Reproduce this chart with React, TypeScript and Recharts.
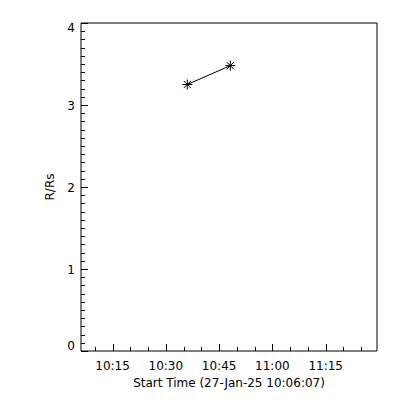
import React from "react";
import { LineChart, Line, XAxis, YAxis } from "recharts";

// times are read as clock times, the x scale is seconds after the start time
const startTime = "10:06:07";
const eventTimes = ["10:36:03", "10:48:09"];
const heights = [3.25, 3.48];
const timeLabels = ["10:15", "10:30", "10:45", "11:00", "11:15"];
const heightLabels = [0, 1, 2, 3, 4];

const toSec = (t: string) => {
  const [h, m, s = 0] = t.split(":").map(Number);
  return h * 3600 + m * 60 + s;
};
const t0 = toSec(startTime);
const X_MAX = 5000;
const Y_MAX = 4;

const data = eventTimes.map((t, i) => ({ t: toSec(t) - t0, r: heights[i] }));

const majorX = timeLabels.map((l) => toSec(l) - t0);
const xTicks: number[] = [];
for (let v = majorX[0] - 300; v < X_MAX; v += 300) if (v > 0) xTicks.push(v);
const yTicks: number[] = [];
for (let k = 0; k <= Y_MAX * 10; k++) yTicks.push(k / 10);

const font = { fontFamily: "DejaVu Sans", fontSize: 12, fill: "#000" };
const ink = { stroke: "#000", strokeWidth: 1, fill: "none" };
const px = (v: number) => Math.round(v) + 0.5;
const isMajorX = (v: number) => majorX.includes(v);
const isMajorY = (v: number) => Math.abs(v - Math.round(v)) < 1e-6;

const BottomTick = (props: any) => {
  const { x, y, payload } = props;
  const major = isMajorX(payload.value);
  const i = majorX.indexOf(payload.value);
  return (
    <g>
      <path d={`M${px(x)},${Math.round(y)}v${-(major ? 7 : 4)}`} {...ink} />
      {major && (
        <text x={x} y={y + 19} textAnchor="middle" {...font}>
          {timeLabels[i]}
        </text>
      )}
    </g>
  );
};

const TopTick = (props: any) => {
  const { x, y, payload } = props;
  const major = isMajorX(payload.value);
  return <path d={`M${px(x)},${Math.round(y)}v${major ? 7 : 4}`} {...ink} />;
};

const LeftTick = (props: any) => {
  const { x, y, payload } = props;
  const v = payload.value;
  const major = isMajorY(v);
  let dy = 4.5;
  if (v === Y_MAX) dy = 9;
  if (v === 0) dy = -1;
  return (
    <g>
      <path d={`M${Math.round(x)},${px(y)}h${major ? 7 : 4}`} {...ink} />
      {major && heightLabels.includes(Math.round(v)) && (
        <text x={x - 6} y={y + dy} textAnchor="end" {...font}>
          {Math.round(v)}
        </text>
      )}
    </g>
  );
};

const RightTick = (props: any) => {
  const { x, y, payload } = props;
  const major = isMajorY(payload.value);
  return <path d={`M${Math.round(x)},${px(y)}h${-(major ? 7 : 4)}`} {...ink} />;
};

const Asterisk = (props: any) => {
  const { cx, cy } = props;
  if (cx == null || cy == null) return null;
  const r = 5;
  const d = r * 0.72;
  return (
    <path
      d={`M${cx - r},${cy}h${2 * r}M${cx},${cy - r}v${2 * r}M${cx - d},${cy - d}l${2 * d},${2 * d}M${cx - d},${cy + d}l${2 * d},${-2 * d}`}
      {...ink}
    />
  );
};

export default function App() {
  return (
    <div style={{ position: "absolute", left: 0, top: 0, background: "#fff" }}>
      <LineChart
        width={400}
        height={400}
        data={data}
        margin={{ top: 18, right: 18, bottom: 19, left: 51 }}
      >
        <XAxis
          dataKey="t"
          type="number"
          domain={[0, X_MAX]}
          ticks={xTicks}
          interval={0}
          height={30}
          tickSize={0}
          tickMargin={0}
          tickLine={false}
          axisLine={ink}
          tick={<BottomTick />}
          label={({ viewBox }: any) => (
            <text
              x={viewBox.x + viewBox.width / 2}
              y={viewBox.y + 36}
              textAnchor="middle"
              {...font}
            >
              Start Time (27-Jan-25 10:06:07)
            </text>
          )}
        />
        <XAxis
          xAxisId="top"
          orientation="top"
          type="number"
          domain={[0, X_MAX]}
          ticks={xTicks}
          interval={0}
          height={5}
          tickSize={0}
          tickMargin={0}
          tickLine={false}
          axisLine={ink}
          tick={<TopTick />}
        />
        <YAxis
          type="number"
          domain={[0, Y_MAX]}
          ticks={yTicks}
          interval={0}
          width={30}
          tickSize={0}
          tickMargin={0}
          tickLine={false}
          axisLine={ink}
          tick={<LeftTick />}
          label={({ viewBox }: any) => {
            const cx = viewBox.x + viewBox.width - 27;
            const cy = viewBox.y + viewBox.height / 2;
            return (
              <text
                x={cx}
                y={cy}
                textAnchor="middle"
                transform={`rotate(-90 ${cx} ${cy})`}
                {...font}
              >
                R/Rs
              </text>
            );
          }}
        />
        <YAxis
          yAxisId="right"
          orientation="right"
          type="number"
          domain={[0, Y_MAX]}
          ticks={yTicks}
          interval={0}
          width={5}
          tickSize={0}
          tickMargin={0}
          tickLine={false}
          axisLine={ink}
          tick={<RightTick />}
        />
        <Line
          dataKey="r"
          type="linear"
          stroke="#000"
          strokeWidth={1}
          dot={<Asterisk />}
          activeDot={false}
          isAnimationActive={false}
        />
      </LineChart>
    </div>
  );
}
